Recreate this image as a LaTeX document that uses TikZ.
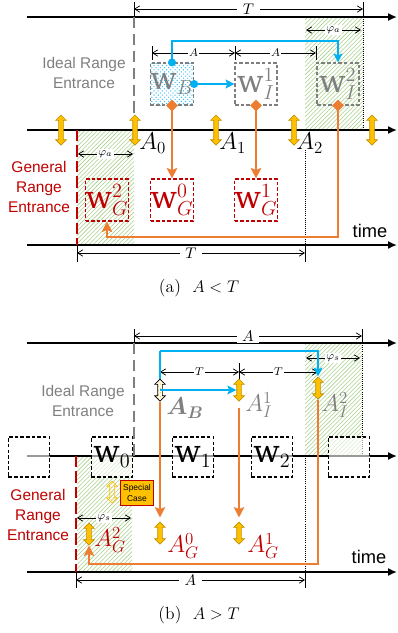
\documentclass[tikz,border=0pt]{standalone}
\usepackage{fontspec}
\setsansfont{Liberation Sans}
\newfontfamily\winfont{DejaVu Serif}
\newcommand\winw{\mbox{\winfont w}}
\usepackage{bm}
\usetikzlibrary{arrows.meta,shapes.geometric,shapes.arrows,patterns}
\definecolor{ideal}{HTML}{7F7F7F}
\definecolor{general}{HTML}{C00000}
\definecolor{link}{HTML}{ED7D31}
\definecolor{sky}{HTML}{00B0F0}
\definecolor{gold}{HTML}{FFC000}
\definecolor{goldEdge}{HTML}{BF9000}
\definecolor{zone}{HTML}{A9D18E}
\begin{document}
\begin{tikzpicture}[x=0.025cm,y=-0.025cm]
  \tikzstyle{timeLine}=[line width=1.3pt,-{Latex[length=2.2mm,width=2mm]}]
  \tikzstyle{dimLine}=[line width=0.5pt,{Straight Barb[length=1.3mm,width=1.6mm]}-{Straight Barb[length=1.3mm,width=1.6mm]}]
  \tikzstyle{tickLine}=[line width=0.5pt]
  \tikzstyle{dotLine}=[line width=0.5pt,densely dotted]
  \tikzstyle{idealEdge}=[line width=1.4pt,draw=ideal,dash pattern=on 8pt off 4pt]
  \tikzstyle{generalEdge}=[line width=1.4pt,draw=general,dash pattern=on 8pt off 3pt]
  \tikzstyle{zoneFill}=[pattern=north east lines,pattern color=zone]
  \tikzstyle{dimLabel}=[fill=white,inner sep=1pt,font=\fontsize{8}{8}\selectfont]
  \tikzstyle{dimLabelBig}=[fill=white,inner xsep=4pt,inner ysep=1pt,font=\fontsize{11}{11}\selectfont]
  \tikzstyle{rangeText}=[align=center,font=\sffamily\fontsize{11}{14}\selectfont]
  \tikzstyle{winBox}=[minimum width=1.05cm,minimum height=1.05cm,inner sep=0pt,line width=0.8pt,dash pattern=on 2.5pt off 1.5pt,font=\fontsize{22}{22}\selectfont]
  \tikzstyle{idealBox}=[winBox,draw=ideal,text=ideal]
  \tikzstyle{generalBox}=[winBox,draw=general,text=general]
  \tikzstyle{slotBox}=[winBox,draw=black,fill=white,fill opacity=0.6,text opacity=1,minimum width=1.03cm,minimum height=1cm]
  \tikzstyle{swing}=[double arrow,shape border rotate=90,draw=goldEdge,fill=gold,line width=0.5pt,inner sep=0.05cm,minimum width=0.26cm,minimum height=0.75cm,double arrow head extend=0.075cm]
  \tikzstyle{swingShort}=[swing,minimum height=0.55cm]
  \tikzstyle{bigMath}=[inner sep=0pt,anchor=west,font=\fontsize{18}{18}\selectfont]
  \tikzstyle{orangeLink}=[line width=2pt,draw=link,-{Stealth[length=2.6mm,width=2.6mm,inset=0.5mm]}]
  \tikzstyle{blueLink}=[line width=1.4pt,draw=sky,-{Stealth[length=2.2mm,width=2.2mm,inset=0.4mm]}]
  \tikzstyle{blueDot}=[circle,fill=sky,minimum size=0.2cm,inner sep=0pt]
  \tikzstyle{linkDiamond}=[diamond,fill=link,minimum size=0.3cm,inner sep=0pt]

  \useasboundingbox (0,0) rectangle (398,633);

  % (a) A < T
  \fill[zoneFill] (305,17) rectangle (363,130);
  \fill[zoneFill] (77,130) rectangle (134,245);

  \coordinate (aTopL) at (27,17); \coordinate (aTopR) at (397,17);
  \coordinate (aMidL) at (27,130); \coordinate (aMidR) at (397,130);
  \coordinate (aBotL) at (27,245); \coordinate (aBotR) at (397,245);
  \draw[timeLine] (aTopL) -- (aTopR);
  \draw[timeLine] (aMidL) -- (aMidR);
  \draw[timeLine] (aBotL) -- (aBotR);

  \coordinate (aIdealTop) at (134,2); \coordinate (aIdealAx) at (134,17); \coordinate (aIdealEnd) at (134,113);
  \draw[tickLine] (aIdealTop) -- (aIdealAx);
  \draw[idealEdge] (aIdealAx) -- (aIdealEnd);
  \coordinate (aZoneTop) at (363,2); \coordinate (aZoneAx) at (363,17); \coordinate (aZoneEnd) at (363,130);
  \draw[tickLine] (aZoneTop) -- (aZoneAx);
  \draw[dotLine] (aZoneAx) -- (aZoneEnd);
  \coordinate (aGenTop) at (77,130); \coordinate (aGenAx) at (77,245); \coordinate (aGenEnd) at (77,262);
  \draw[generalEdge] (aGenTop) -- (aGenAx);
  \draw[tickLine] (aGenAx) -- (aGenEnd);
  \coordinate (aTwoTop) at (305,150); \coordinate (aTwoAx) at (305,245); \coordinate (aTwoEnd) at (305,262);
  \draw[dotLine] (aTwoTop) -- (aTwoAx);
  \draw[tickLine] (aTwoAx) -- (aTwoEnd);

  \node[rangeText,text=ideal](aIdeal) at (84,73) {Ideal Range\\Entrance};
  \node[rangeText,text=general](aGeneral) at (39,187) {General\\Range\\Entrance};
  \node[font=\sffamily\fontsize{13}{13}\selectfont](aTime) at (370,231) {time};

  % dimensions
  \coordinate (dT1) at (134,9); \coordinate (dT2) at (363,9);
  \draw[dimLine] (dT1) -- node[dimLabelBig]{$T$} (dT2);
  \coordinate (dA1) at (152,53); \coordinate (dA2) at (235,53); \coordinate (dA3) at (316,53);
  \draw[dimLine] (dA1) -- node[dimLabel]{$A$} (dA2);
  \draw[dimLine] (dA2) -- node[dimLabel]{$A$} (dA3);
  \foreach \x in {152,235,316}
    \draw[tickLine] (\x,46) -- (\x,60);
  \coordinate (dP1) at (306,30); \coordinate (dP2) at (361,30);
  \draw[dimLine] (dP1) -- node[dimLabel]{$\varphi_a$} (dP2);
  \coordinate (dP3) at (78,154); \coordinate (dP4) at (133,154);
  \draw[dimLine] (dP3) -- node[dimLabel]{$\varphi_a$} (dP4);
  \coordinate (dT3) at (77,253); \coordinate (dT4) at (305,253);
  \draw[dimLine] (dT3) -- node[dimLabelBig]{$T$} (dT4);

  % windows
  \node[idealBox,pattern=crosshatch dots,pattern color=sky!80](wB) at (172,84) {$\winw_B$};
  \node[idealBox](wI1) at (256,84) {$\winw_I^1$};
  \node[idealBox](wI2) at (338,84) {$\winw_I^2$};
  \node[generalBox](wG2) at (107,200) {$\winw_G^2$};
  \node[generalBox](wG0) at (172,200) {$\winw_G^0$};
  \node[generalBox](wG1) at (256,200) {$\winw_G^1$};

  \foreach \x [count=\i] in {61,135,216,294,372}
    \node[swing](ya\i) at (\x,130) {};
  \node[bigMath](lA0) at (139,143) {$A_0$};
  \node[bigMath](lA1) at (219,143) {$A_1$};
  \node[bigMath](lA2) at (296,143) {$A_2$};

  % links
  \coordinate (bCornerL) at (172,41); \coordinate (bCornerR) at (338,41);
  \draw[blueLink] (wB.north) -- (bCornerL) -- (bCornerR) -- (wI2.north);
  \draw[blueLink] (wB.east) -- (wI1.west);
  \node[blueDot](bTop) at (wB.north) {};
  \node[blueDot](bSide) at (wB.east) {};

  \coordinate (oTurnR) at (338,237); \coordinate (oTurnL) at (107,237);
  \draw[orangeLink] (wB.south) -- (wG0.north);
  \draw[orangeLink] (wI1.south) -- (wG1.north);
  \draw[orangeLink] (wI2.south) -- (oTurnR) -- (oTurnL) -- (wG2.south);
  \node[linkDiamond](oB) at (wB.south) {};
  \node[linkDiamond](oI1) at (wI1.south) {};
  \node[linkDiamond](oI2) at (wI2.south) {};

  \node[font=\fontsize{12.5}{12.5}\selectfont](capA) at (199,288) {(a)~~$A<T$};

  % (b) A > T
  \fill[zoneFill] (305,343) rectangle (362,456);
  \fill[zoneFill] (77,456) rectangle (132,572);

  \coordinate (bTopL) at (27,343); \coordinate (bTopR) at (397,343);
  \coordinate (bMidL) at (27,456); \coordinate (bMidR) at (397,456);
  \coordinate (bBotL) at (27,572); \coordinate (bBotR) at (397,572);
  \draw[timeLine] (bTopL) -- (bTopR);
  \draw[timeLine] (bMidL) -- (bMidR);
  \draw[timeLine] (bBotL) -- (bBotR);

  \coordinate (bIdealTop) at (134,329); \coordinate (bIdealAx) at (134,343); \coordinate (bIdealEnd) at (134,456);
  \draw[tickLine] (bIdealTop) -- (bIdealAx);
  \draw[idealEdge] (bIdealAx) -- (bIdealEnd);
  \coordinate (bZoneTop) at (362,329); \coordinate (bZoneAx) at (362,343); \coordinate (bZoneEnd) at (362,456);
  \draw[tickLine] (bZoneTop) -- (bZoneAx);
  \draw[dotLine] (bZoneAx) -- (bZoneEnd);
  \coordinate (bGenTop) at (76,456); \coordinate (bGenAx) at (76,572); \coordinate (bGenEnd) at (76,588);
  \draw[generalEdge] (bGenTop) -- (bGenAx);
  \draw[tickLine] (bGenAx) -- (bGenEnd);
  \coordinate (bTwoTop) at (305,456); \coordinate (bTwoAx) at (305,572); \coordinate (bTwoEnd) at (305,588);
  \draw[dotLine] (bTwoTop) -- (bTwoAx);
  \draw[tickLine] (bTwoAx) -- (bTwoEnd);

  \node[rangeText,text=ideal](bIdeal) at (83,401) {Ideal Range\\Entrance};
  \node[rangeText,text=general](bGeneral) at (38,515) {General\\Range\\Entrance};
  \node[font=\sffamily\fontsize{13}{13}\selectfont](bTime) at (369,557) {time};

  % dimensions
  \coordinate (eA1) at (134,336); \coordinate (eA2) at (362,336);
  \draw[dimLine] (eA1) -- node[dimLabelBig]{$A$} (eA2);
  \coordinate (eP1) at (306,358); \coordinate (eP2) at (360,358);
  \draw[dimLine] (eP1) -- node[dimLabel]{$\varphi_s$} (eP2);
  \coordinate (eT1) at (160,372); \coordinate (eT2) at (239,372); \coordinate (eT3) at (318,372);
  \draw[dimLine] (eT1) -- node[dimLabel]{$T$} (eT2);
  \draw[dimLine] (eT2) -- node[dimLabel]{$T$} (eT3);
  \draw[tickLine] (239,363) -- (239,381);
  \coordinate (eP3) at (77,518); \coordinate (eP4) at (131,518);
  \draw[dimLine] (eP3) -- node[dimLabel]{$\varphi_s$} (eP4);
  \coordinate (eA3) at (76,580); \coordinate (eA4) at (305,580);
  \draw[dimLine] (eA3) -- node[dimLabelBig]{$A$} (eA4);

  % slots on the time line
  \node[slotBox](s0) at (29,457) {};
  \node[slotBox](w0) at (112,457) {$\winw_0$};
  \node[slotBox](w1) at (193,457) {$\winw_1$};
  \node[slotBox](w2) at (272,457) {$\winw_2$};
  \node[slotBox](s4) at (349,457) {};

  \node[swingShort,draw=black,fill=white,pattern=crosshatch dots,pattern color=gold](sB) at (160,390) {};
  \node[swingShort](sI1) at (239,390) {};
  \node[swingShort](sI2) at (318,388) {};
  \node[swingShort](sG0) at (160,533) {};
  \node[swingShort](sG1) at (239,533) {};
  \node[swingShort](sG2) at (89,534) {};
  \node[swingShort,draw=gold,pattern=crosshatch dots,pattern color=gold](sSp) at (112,492) {};
  \node[draw=general,fill=gold,line width=0.8pt,minimum width=0.83cm,minimum height=0.63cm,inner sep=0pt,align=center,font=\sffamily\fontsize{6}{7.5}\selectfont](special) at (137,493) {Special\\Case};

  \node[bigMath,text=ideal](lAB) at (166,408) {$\bm{A_B}$};
  \node[bigMath,text=ideal](lAI1) at (245,405) {$A_I^1$};
  \node[bigMath,text=ideal](lAI2) at (321,405) {$A_I^2$};
  \node[bigMath,text=general](lAG0) at (167,546) {$A_G^0$};
  \node[bigMath,text=general](lAG1) at (247,546) {$A_G^1$};
  \node[bigMath,text=general](lAG2) at (94,540) {$A_G^2$};

  % links
  \coordinate (cCornerL) at (160,351); \coordinate (cCornerR) at (318,351);
  \draw[blueLink,-] (sB.north) -- (cCornerL);
  \draw[blueLink] (cCornerL) -- (cCornerR) -- (sI2.north);
  \draw[blueLink] (sB.center) -- (sI1);

  \coordinate (pTurnR) at (318,564); \coordinate (pTurnL) at (89,564);
  \draw[orangeLink,shorten >=0.1cm] (sB) -- (sG0);
  \draw[orangeLink,shorten <=0.15cm,shorten >=0.1cm] (sI1) -- (sG1);
  \draw[orangeLink] (sI2) -- (pTurnR) -- (pTurnL) -- (sG2);

  \node[font=\fontsize{12.5}{12.5}\selectfont](capB) at (199,615) {(b)~~$A>T$};
\end{tikzpicture}
\end{document}
